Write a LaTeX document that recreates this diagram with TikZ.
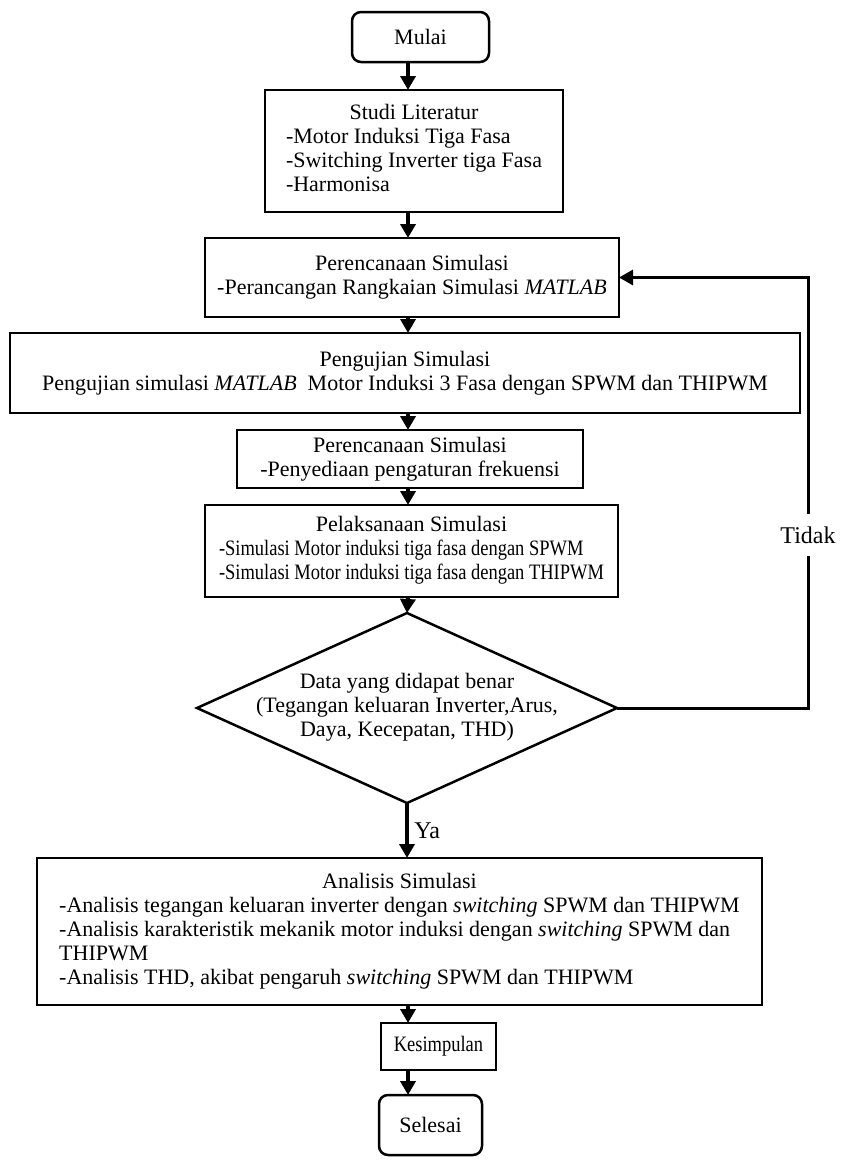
\documentclass[tikz,border=0pt]{standalone}
\usepackage{fontspec}
\setmainfont{Liberation Serif}
\newfontfamily\rapat{Liberation Serif}[FakeStretch=0.84]
\usetikzlibrary{shapes,arrows,arrows.meta,positioning,calc}

\tikzset{
  kotak/.style={draw,line width=2.5pt,inner sep=0pt},
  ujung/.style={draw,line width=2.5pt,rounded corners=9pt,inner sep=0pt},
  putusan/.style={draw,diamond,line width=2.5pt,inner sep=0pt,
    minimum width=420pt,minimum height=190pt},
  panah/.style={-{Triangle[length=14pt,width=15pt]},line width=4pt},
  balik/.style={-{Triangle[length=14pt,width=15pt]},line width=3pt}
}

\begin{document}
\begin{tikzpicture}[x=1pt,y=-1pt,
  every node/.style={outer sep=0pt,font=\fontsize{22}{24}\selectfont}]
\useasboundingbox (0,0) rectangle (842,1173);
\coordinate (jalur) at (408,0);

\node (mulai) [ujung,minimum width=137pt,minimum height=50pt] at (420.5,37) {Mulai};
\node (studi) [kotak,minimum width=298pt,minimum height=122pt] at (414,151)
{\begin{tabular}{@{}l@{}}\multicolumn{1}{@{}c@{}}{Studi Literatur}\\
-Motor Induksi Tiga Fasa\\-Switching Inverter tiga Fasa\\-Harmonisa\end{tabular}};
\node (rencana1) [kotak,minimum width=414pt,minimum height=79pt,align=center] at (412,277.5)
{Perencanaan Simulasi\\-Perancangan Rangkaian Simulasi \textit{MATLAB}};
\node (uji) [kotak,minimum width=790pt,minimum height=80pt,align=center] at (405,373)
{Pengujian Simulasi\\Pengujian simulasi \textit{MATLAB}~ Motor Induksi 3 Fasa dengan SPWM dan THIPWM};
\node (rencana2) [kotak,minimum width=346pt,minimum height=58pt,align=center] at (410,459)
{Perencanaan Simulasi\\-Penyediaan pengaturan frekuensi};
\node (laksana) [kotak,minimum width=413pt,minimum height=92pt] at (411.5,551)
{\begin{tabular}{@{}l@{}}\multicolumn{1}{@{}c@{}}{Pelaksanaan Simulasi}\\
{\rapat -Simulasi Motor induksi tiga fasa dengan SPWM}\\
{\rapat -Simulasi Motor induksi tiga fasa dengan THIPWM}\end{tabular}};
\node (data) [putusan] at (407,708)
{\makebox[0pt]{\raisebox{14pt}{\begin{tabular}{@{}c@{}}Data yang didapat benar\\
(Tegangan keluaran Inverter,Arus,\\Daya, Kecepatan, THD)\end{tabular}}}};
\node (analisis) [kotak,minimum width=725pt,minimum height=147pt] at (399.5,931.5)
{\begin{tabular}{@{}l@{}}\multicolumn{1}{@{}c@{}}{Analisis Simulasi}\\
-Analisis tegangan keluaran inverter dengan \textit{switching} SPWM dan THIPWM\\
-Analisis karakteristik mekanik motor induksi dengan \textit{switching} SPWM dan\\
THIPWM\\
-Analisis THD, akibat pengaruh \textit{switching} SPWM dan THIPWM\end{tabular}};
\node (simpul) [kotak,minimum width=115pt,minimum height=47pt] at (438.5,1046.5) {\rapat Kesimpulan};
\node (selesai) [ujung,minimum width=103pt,minimum height=60pt] at (430.5,1125) {Selesai};
\node (tidak) [inner ysep=13pt,font=\fontsize{24}{26}\selectfont] at (808,535) {Tidak};

% alur utama
\draw [panah] (mulai.south -| jalur) -- (studi.north -| jalur);
\draw [panah] (studi.south -| jalur) -- (rencana1.north -| jalur);
\draw [panah] (rencana1.south -| jalur) -- (uji.north -| jalur);
\draw [panah] (uji.south -| jalur) -- (rencana2.north -| jalur);
\draw [panah] (rencana2.south -| jalur) -- (laksana.north -| jalur);
\draw [panah] (laksana.south -| jalur) -- (data.north);
\draw [panah] (data.south) -- node [right,xshift=4pt,font=\fontsize{24}{26}\selectfont] {Ya} (analisis.north -| data.south);
\draw [panah] (analisis.south -| jalur) -- (simpul.north -| jalur);
\draw [panah] (simpul.south -| jalur) -- (selesai.north -| jalur);

% umpan balik
\draw [line width=3pt] (data.east) -| (tidak.south);
\draw [balik] (tidak.north) |- (rencana1.east);
\end{tikzpicture}
\end{document}
